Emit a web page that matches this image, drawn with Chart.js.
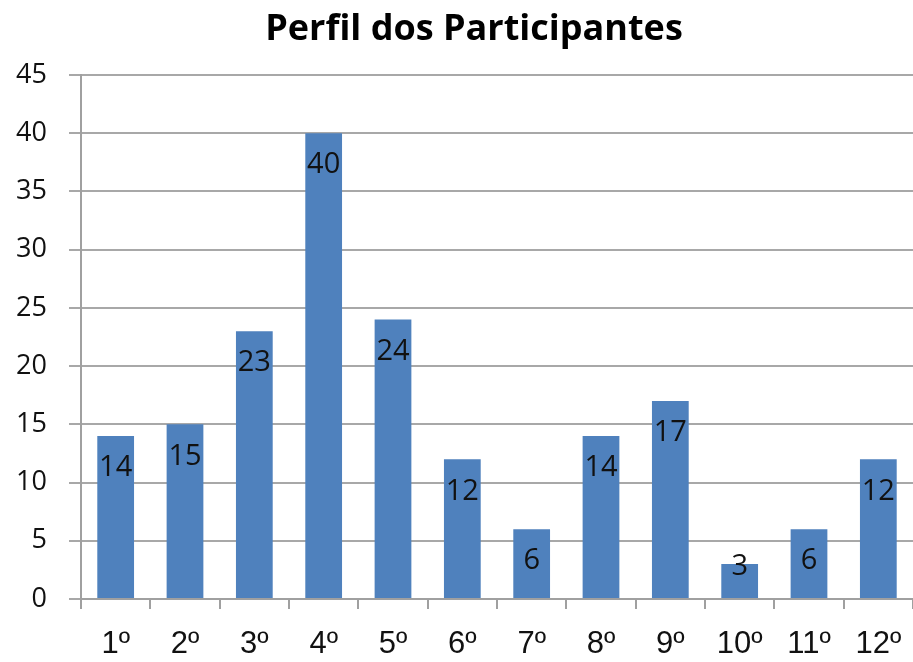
<!DOCTYPE html>
<html><head><meta charset="utf-8">
<script src="https://cdn.jsdelivr.net/npm/chart.js@4"></script>
<style>html,body{margin:0;padding:0;background:#fff}#wrap{width:913px;height:662px}</style>
</head><body><div id="wrap"><canvas id="c" width="913" height="662"></canvas></div>
<script>
const categories = ["1º","2º","3º","4º","5º","6º","7º","8º","9º","10º","11º","12º"];
const values = [14,15,23,40,24,12,6,14,17,3,6,12];
const chartTitle = "Perfil dos Participantes";
const yMin = 0, yMax = 45, yStep = 5;

const FONT = "'Open Sans', Lato, sans-serif";
const XFONT = "'Liberation Sans', Arial, sans-serif";

const labelPlugin = {
  id: 'barLabels',
  afterDatasetsDraw(chart) {
    const ctx = chart.ctx;
    const meta = chart.getDatasetMeta(0);
    const yScale = chart.scales.y;
    ctx.save();
    ctx.font = "29px " + FONT;
    ctx.fillStyle = "#111";
    ctx.textAlign = "center";
    ctx.textBaseline = "middle";
    meta.data.forEach((bar, i) => {
      const top = bar.y;
      const maxY = yScale.getPixelForValue(0) - 32;
      const y = Math.min(top + 32, maxY);
      ctx.fillText(String(values[i]), bar.x, y);
    });
    ctx.restore();
  }
};

const titlePlugin = {
  id: 'customTitle',
  afterDraw(chart) {
    const ctx = chart.ctx;
    ctx.save();
    ctx.font = "bold 36px " + FONT;
    ctx.fillStyle = "#000";
    ctx.textAlign = "center";
    ctx.textBaseline = "middle";
    ctx.fillText(chartTitle, 474, 30);
    ctx.restore();
  }
};

new Chart(document.getElementById('c'), {
  type: 'bar',
  data: {
    labels: categories,
    datasets: [{ data: values, backgroundColor: '#4F81BD', borderWidth: 0, categoryPercentage: 1, barPercentage: 0.53 }]
  },
  options: {
    responsive: false,
    animation: false,
    layout: { padding: { left: 0, right: -4, top: 75, bottom: 0 } },
    plugins: {
      legend: { display: false },
      tooltip: { enabled: false },
      title: { display: false }
    },
    scales: {
      x: {
        grid: { display: true, drawOnChartArea: false, drawTicks: true, tickLength: 10, offset: true, color: '#A0A0A0', lineWidth: 2 },
        border: { display: true, color: '#A0A0A0', width: 2 },
        ticks: { color: '#111', font: { family: XFONT, size: 31 }, padding: 17, maxRotation: 0, autoSkip: false },
        afterFit(s) { s.height = 63; s.paddingLeft = 0; s.paddingRight = 0; }
      },
      y: {
        min: yMin, max: yMax,
        grid: { color: '#A8A8A8', lineWidth: 2, tickLength: 12, drawTicks: true },
        border: { display: true, color: '#A0A0A0', width: 2 },
        ticks: { stepSize: yStep, color: '#111', font: { family: FONT, size: 27 }, padding: 22 },
        afterFit(s) { s.width = 81; s.paddingTop = 0; s.paddingBottom = 0; }
      }
    }
  },
  plugins: [labelPlugin, titlePlugin]
});
</script></body></html>
